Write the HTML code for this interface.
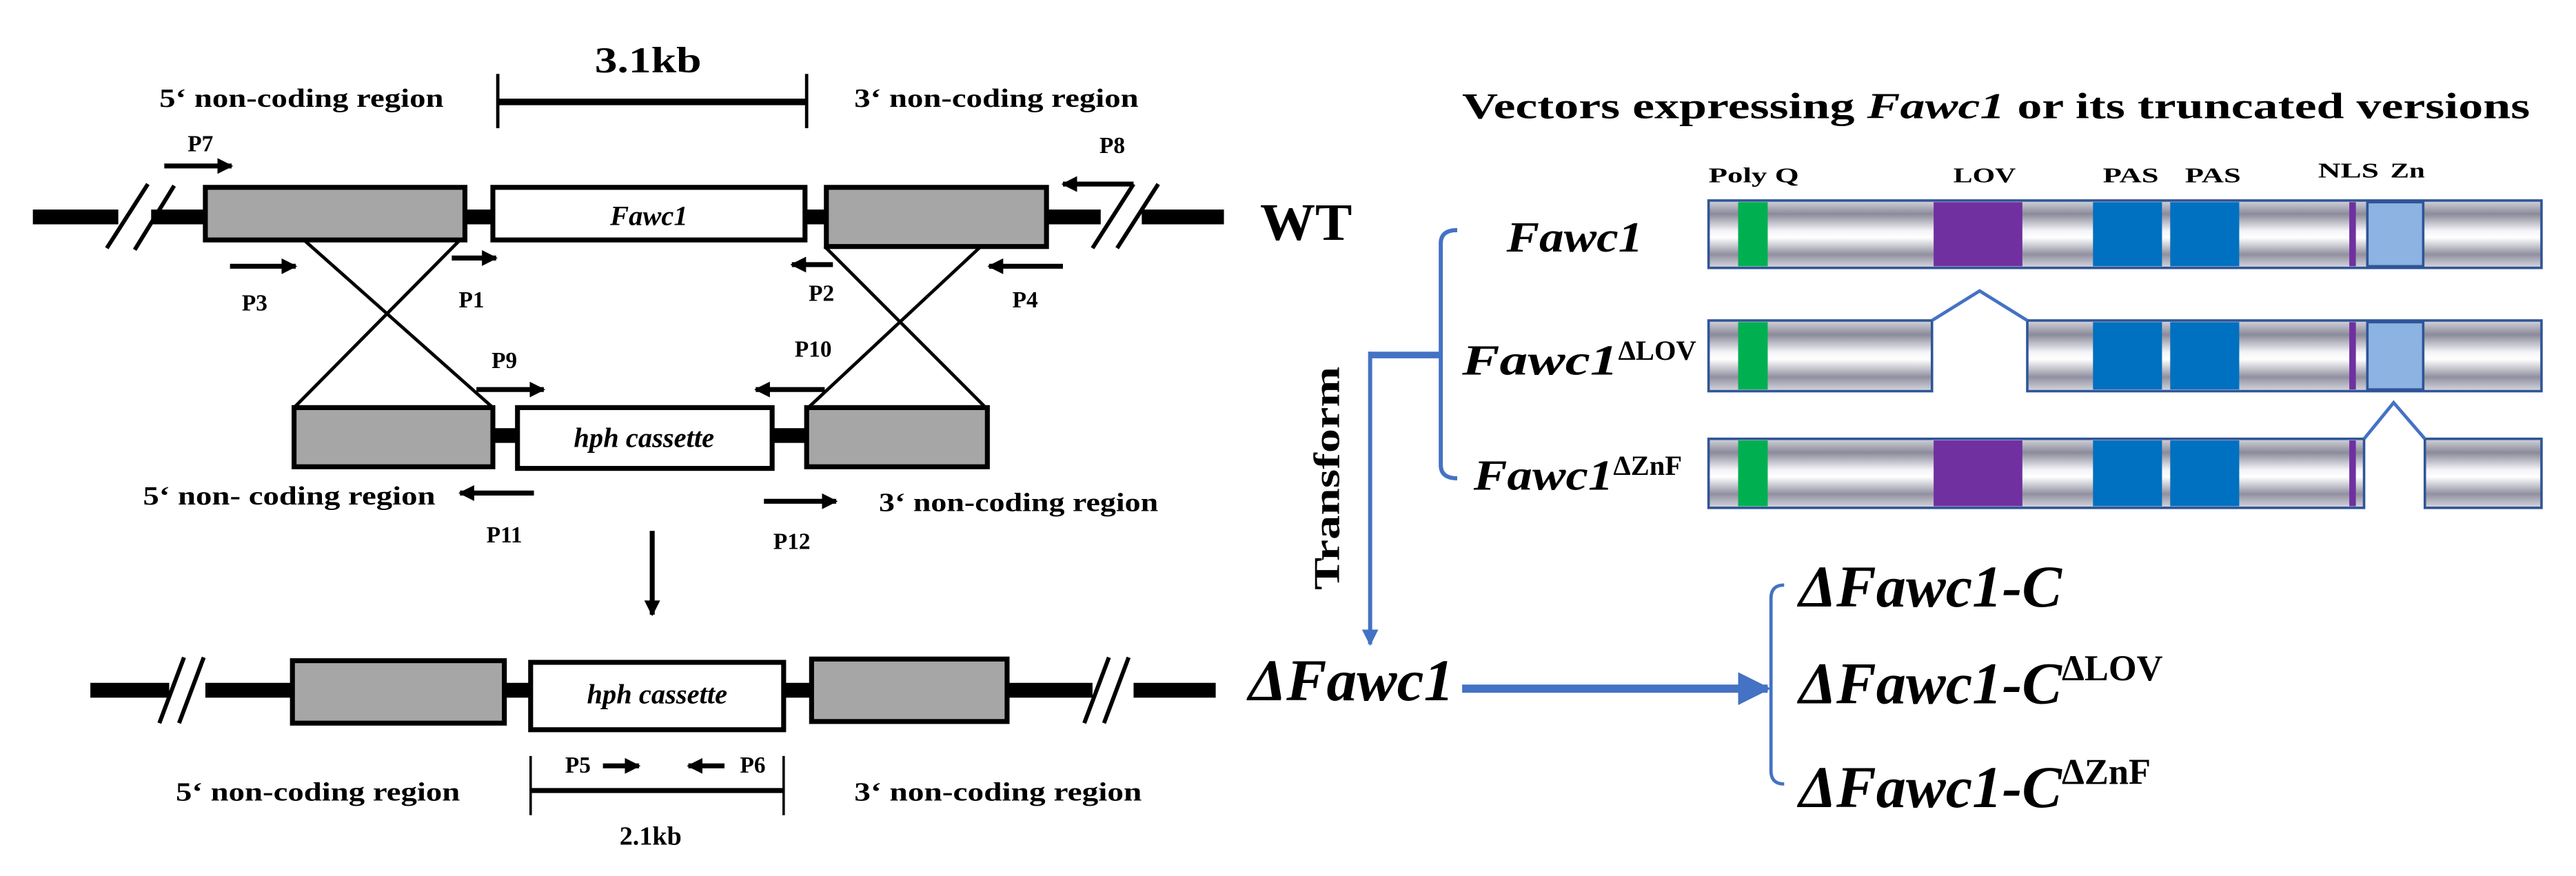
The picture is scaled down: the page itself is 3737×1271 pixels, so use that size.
<!DOCTYPE html>
<html><head><meta charset="utf-8"><style>html,body{margin:0;padding:0;background:#fff}svg{display:block}svg text{font-family:"Liberation Serif","Times New Roman",serif;font-weight:bold}</style></head>
<body>
<svg width="3737" height="1271" viewBox="0 0 1568 533" preserveAspectRatio="none" xmlns="http://www.w3.org/2000/svg">
<defs>
<linearGradient id="g" x1="0" y1="0" x2="0" y2="1">
<stop offset="0" stop-color="#d4d4dc"/><stop offset="0.2" stop-color="#8a8a9a"/><stop offset="0.45" stop-color="#f4f4f8"/><stop offset="0.55" stop-color="#ffffff"/><stop offset="0.8" stop-color="#9090a0"/><stop offset="1" stop-color="#d8d8e0"/>
</linearGradient>
<marker id="ah" viewBox="0 0 10 10" refX="9" refY="5" markerWidth="3.2" markerHeight="3.2" orient="auto"><path d="M0,0L10,5L0,10z" fill="#000"/></marker>
<marker id="bh" viewBox="0 0 10 10" refX="9" refY="5" markerWidth="4" markerHeight="4" orient="auto"><path d="M0,0L10,5L0,10z" fill="#4472c4"/></marker>
</defs>

<text x="362" y="44" font-size="22" textLength="65" lengthAdjust="spacingAndGlyphs">3.1kb</text>
<line x1="303" y1="62" x2="491" y2="62" stroke="#000" stroke-width="4"/>
<line x1="303" y1="45" x2="303" y2="78" stroke="#000" stroke-width="2"/>
<line x1="491" y1="45" x2="491" y2="78" stroke="#000" stroke-width="2"/>
<text x="97" y="65" font-size="16" textLength="173" lengthAdjust="spacingAndGlyphs">5‘ non-coding region</text>
<text x="520" y="65" font-size="16" textLength="173" lengthAdjust="spacingAndGlyphs">3‘ non-coding region</text>

<g stroke="#000" stroke-width="9">
<line x1="20" y1="132" x2="72" y2="132"/><line x1="92" y1="132" x2="640" y2="132"/>
<line x1="637" y1="132" x2="670" y2="132"/><line x1="695" y1="132" x2="745" y2="132"/>
</g>
<g stroke="#000" stroke-width="2.5">
<line x1="65" y1="151" x2="90" y2="112"/><line x1="82" y1="152" x2="106" y2="113"/>
<line x1="665" y1="151" x2="690" y2="112"/><line x1="680" y1="151" x2="705" y2="112"/>
</g>
<rect x="125" y="114" width="158" height="32" fill="#a6a6a6" stroke="#000" stroke-width="3"/>
<rect x="300" y="114" width="190" height="32" fill="#fff" stroke="#000" stroke-width="3"/>
<text x="395" y="137" font-size="17" font-style="italic" text-anchor="middle">Fawc1</text>
<rect x="503" y="114" width="134" height="36" fill="#a6a6a6" stroke="#000" stroke-width="3"/>
<text x="767" y="146" font-size="32" textLength="56" lengthAdjust="spacingAndGlyphs">WT</text>

<g stroke="#000" stroke-width="3" marker-end="url(#ah)">
<line x1="100" y1="101" x2="141" y2="101"/>
<line x1="690" y1="112" x2="647" y2="112"/>
<line x1="140" y1="162" x2="180" y2="162"/>
<line x1="275" y1="157" x2="302" y2="157"/>
<line x1="507" y1="161" x2="482" y2="161"/>
<line x1="647" y1="162" x2="602" y2="162"/>
<line x1="290" y1="237" x2="331" y2="237"/>
<line x1="502" y1="237" x2="460" y2="237"/>
<line x1="325" y1="300" x2="280" y2="300"/>
<line x1="465" y1="305" x2="509" y2="305"/>
</g>
<g font-size="14">
<text x="122" y="92" text-anchor="middle">P7</text>
<text x="677" y="93" text-anchor="middle">P8</text>
<text x="155" y="189" text-anchor="middle">P3</text>
<text x="287" y="187" text-anchor="middle">P1</text>
<text x="500" y="183" text-anchor="middle">P2</text>
<text x="624" y="187" text-anchor="middle">P4</text>
<text x="307" y="224" text-anchor="middle">P9</text>
<text x="495" y="217" text-anchor="middle">P10</text>
<text x="307" y="330" text-anchor="middle">P11</text>
<text x="482" y="334" text-anchor="middle">P12</text>
</g>

<g stroke="#000" stroke-width="2">
<line x1="185" y1="146" x2="300" y2="248"/><line x1="280" y1="146" x2="179" y2="248"/>
<line x1="502" y1="150" x2="600" y2="248"/><line x1="597" y1="150" x2="492" y2="248"/>
</g>

<line x1="300" y1="265" x2="491" y2="265" stroke="#000" stroke-width="9"/>
<rect x="179" y="248" width="121" height="36" fill="#a6a6a6" stroke="#000" stroke-width="3"/>
<rect x="315" y="248" width="155" height="37" fill="#fff" stroke="#000" stroke-width="3"/>
<text x="392" y="272" font-size="17" font-style="italic" text-anchor="middle">hph cassette</text>
<rect x="491" y="248" width="110" height="36" fill="#a6a6a6" stroke="#000" stroke-width="3"/>
<text x="87" y="307" font-size="16" textLength="178" lengthAdjust="spacingAndGlyphs">5‘ non- coding region</text>
<text x="535" y="311" font-size="16" textLength="170" lengthAdjust="spacingAndGlyphs">3‘ non-coding region</text>

<line x1="397" y1="323" x2="397" y2="374" stroke="#000" stroke-width="3" marker-end="url(#ah)"/>

<g stroke="#000" stroke-width="9">
<line x1="55" y1="420" x2="103" y2="420"/><line x1="125" y1="420" x2="665" y2="420"/><line x1="690" y1="420" x2="740" y2="420"/>
</g>
<g stroke="#000" stroke-width="2.5">
<line x1="97" y1="440" x2="112" y2="400"/><line x1="109" y1="440" x2="124" y2="400"/>
<line x1="660" y1="440" x2="675" y2="400"/><line x1="672" y1="440" x2="687" y2="400"/>
</g>
<rect x="178" y="402" width="129" height="38" fill="#a6a6a6" stroke="#000" stroke-width="3"/>
<rect x="323" y="403" width="154" height="41" fill="#fff" stroke="#000" stroke-width="3"/>
<text x="400" y="428" font-size="17" font-style="italic" text-anchor="middle">hph cassette</text>
<rect x="494" y="401" width="119" height="38" fill="#a6a6a6" stroke="#000" stroke-width="3"/>

<line x1="323" y1="481" x2="477" y2="481" stroke="#000" stroke-width="3"/>
<line x1="323" y1="460" x2="323" y2="496" stroke="#000" stroke-width="1.5"/>
<line x1="477" y1="460" x2="477" y2="496" stroke="#000" stroke-width="1.5"/>
<text x="344" y="470" font-size="14">P5</text>
<text x="466" y="470" font-size="14" text-anchor="end">P6</text>
<g stroke="#000" stroke-width="3" marker-end="url(#ah)">
<line x1="367" y1="466" x2="389" y2="466"/><line x1="441" y1="466" x2="419" y2="466"/>
</g>
<text x="107" y="487" font-size="16" textLength="173" lengthAdjust="spacingAndGlyphs">5‘ non-coding region</text>
<text x="520" y="487" font-size="16" textLength="175" lengthAdjust="spacingAndGlyphs">3‘ non-coding region</text>
<text x="396" y="514" font-size="16" text-anchor="middle">2.1kb</text>

<text transform="translate(815,291) rotate(-90)" font-size="22" text-anchor="middle" textLength="136" lengthAdjust="spacingAndGlyphs">Transform</text>
<line x1="833" y1="216" x2="877" y2="216" stroke="#4472c4" stroke-width="4"/>
<line x1="834" y1="214" x2="834" y2="392" stroke="#4472c4" stroke-width="2.5" marker-end="url(#bh)"/>
<path d="M887,140 Q877,140 877,148 L877,283 Q877,291 887,291" fill="none" stroke="#4472c4" stroke-width="2.5"/>

<text x="760" y="426" font-size="36" font-style="italic" textLength="125" lengthAdjust="spacingAndGlyphs">ΔFawc1</text>
<line x1="890" y1="419" x2="1076" y2="419" stroke="#4472c4" stroke-width="5" marker-end="url(#bh)"/>
<path d="M1086,356 Q1078,356 1078,364 L1078,469 Q1078,477 1086,477" fill="none" stroke="#4472c4" stroke-width="2"/>
<text x="1095" y="369" font-size="36" font-style="italic" textLength="160" lengthAdjust="spacingAndGlyphs">ΔFawc1-C</text>
<text x="1095" y="428" font-size="36" font-style="italic"><tspan textLength="160" lengthAdjust="spacingAndGlyphs">ΔFawc1-C</tspan><tspan font-size="22" font-style="normal" dy="-14">ΔLOV</tspan></text>
<text x="1095" y="491" font-size="36" font-style="italic"><tspan textLength="160" lengthAdjust="spacingAndGlyphs">ΔFawc1-C</tspan><tspan font-size="22" font-style="normal" dy="-14">ΔZnF</tspan></text>

<text x="890" y="72" font-size="22" textLength="650" lengthAdjust="spacingAndGlyphs">Vectors expressing <tspan font-style="italic">Fawc1</tspan> or its truncated versions</text>
<g font-size="13">
<text x="1040" y="111" textLength="55" lengthAdjust="spacingAndGlyphs">Poly Q</text>
<text x="1189" y="111" textLength="38" lengthAdjust="spacingAndGlyphs">LOV</text>
<text x="1280" y="111" textLength="34" lengthAdjust="spacingAndGlyphs">PAS</text>
<text x="1330" y="111" textLength="34" lengthAdjust="spacingAndGlyphs">PAS</text>
<text x="1411" y="108" textLength="37" lengthAdjust="spacingAndGlyphs">NLS</text>
<text x="1455" y="108" textLength="21" lengthAdjust="spacingAndGlyphs">Zn</text>
</g>
<text x="917" y="153" font-size="26" font-style="italic" textLength="83" lengthAdjust="spacingAndGlyphs">Fawc1</text>
<text x="890" y="228" font-size="26" font-style="italic"><tspan textLength="95" lengthAdjust="spacingAndGlyphs">Fawc1</tspan><tspan font-size="17" font-style="normal" dy="-9">ΔLOV</tspan></text>
<text x="897" y="298" font-size="26" font-style="italic"><tspan textLength="85" lengthAdjust="spacingAndGlyphs">Fawc1</tspan><tspan font-size="17" font-style="normal" dy="-9">ΔZnF</tspan></text>

<g stroke="#2f5597" stroke-width="1.5">
<rect x="1040" y="122" width="507" height="41" fill="url(#g)"/>
<rect x="1058" y="123" width="18" height="39" fill="#00b050" stroke="none"/>
<rect x="1177" y="123" width="54" height="39" fill="#7030a0" stroke="none"/>
<rect x="1274" y="123" width="42" height="39" fill="#0070c0" stroke="none"/>
<rect x="1321" y="123" width="42" height="39" fill="#0070c0" stroke="none"/>
<rect x="1430" y="123" width="4" height="39" fill="#7030a0" stroke="none"/>
<rect x="1441" y="123" width="34" height="39" fill="#8db3e2"/>
</g>
<g stroke="#2f5597" stroke-width="1.5">
<rect x="1040" y="195" width="136" height="43" fill="url(#g)"/>
<rect x="1234" y="195" width="313" height="43" fill="url(#g)"/>
<rect x="1058" y="196" width="18" height="41" fill="#00b050" stroke="none"/>
<rect x="1274" y="196" width="42" height="41" fill="#0070c0" stroke="none"/>
<rect x="1321" y="196" width="42" height="41" fill="#0070c0" stroke="none"/>
<rect x="1430" y="196" width="4" height="41" fill="#7030a0" stroke="none"/>
<rect x="1441" y="196" width="34" height="41" fill="#8db3e2"/>
<polyline points="1176,195 1205,177 1234,195" fill="none" stroke="#4472c4" stroke-width="2"/>
</g>
<g stroke="#2f5597" stroke-width="1.5">
<rect x="1040" y="267" width="399" height="42" fill="url(#g)"/>
<rect x="1476" y="267" width="71" height="42" fill="url(#g)"/>
<rect x="1058" y="268" width="18" height="40" fill="#00b050" stroke="none"/>
<rect x="1177" y="268" width="54" height="40" fill="#7030a0" stroke="none"/>
<rect x="1274" y="268" width="42" height="40" fill="#0070c0" stroke="none"/>
<rect x="1321" y="268" width="42" height="40" fill="#0070c0" stroke="none"/>
<rect x="1430" y="268" width="4" height="40" fill="#7030a0" stroke="none"/>
<polyline points="1439,267 1457,245 1476,267" fill="none" stroke="#4472c4" stroke-width="2"/>
</g>
</svg>
</body></html>
